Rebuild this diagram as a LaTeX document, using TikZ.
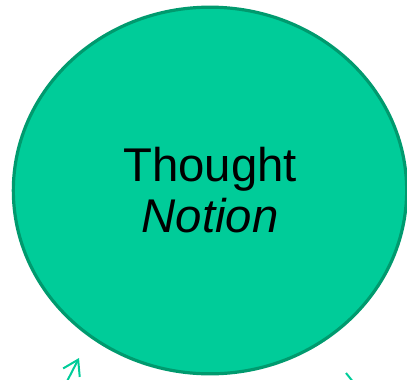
\documentclass[tikz,border=0pt]{standalone}
\usepackage{fontspec}
\setmainfont{Liberation Sans}
\usepackage{tikz}
\usetikzlibrary{arrows.meta, positioning, shapes.geometric}
\definecolor{mintFill}{HTML}{00CC99}
\definecolor{mintDark}{HTML}{009A6E}

\begin{document}
\begin{tikzpicture}[x=0.75pt, y=-0.75pt]
    \useasboundingbox (0,0) rectangle (407,379);
    \clip (0,0) rectangle (407,379);

    % elipse
    \node[ellipse, draw=mintDark, fill=mintFill, line width=2.4pt,
      minimum width=295pt, minimum height=275pt, inner sep=0pt,
      align=center, font=\fontsize{35.5pt}{38.25pt}\selectfont]
      (thought) at (210,190.5) {Thought\\\textit{Notion}};

    % flechas cortadas
    \coordinate (inStart) at (61,393);
    \coordinate (inTip) at (79,358);
    \draw[mintFill, line width=1.5pt, -{Straight Barb[length=11pt, width=14pt]}]
      (inStart) -- (inTip);

    \coordinate (outStart) at (346,373);
    \coordinate (outEnd) at (358,388);
    \draw[mintFill, line width=1.5pt] (outStart) -- (outEnd);
  \end{tikzpicture}
\end{document}
